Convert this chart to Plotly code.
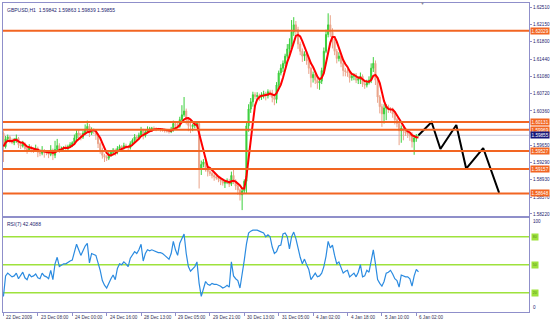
import plotly.graph_objects as go
import pandas as pd

chart_title = "GBPUSD,H1  1.59842 1.59863 1.59839 1.59855"
rsi_title = "RSI(7) 42.4088"

first_open = 1.5990
closes = [
    1.5962, 1.5978, 1.5982, 1.5975, 1.5970, 1.5974, 1.5979, 1.5966, 1.5963, 1.5968,
    1.5958, 1.5955, 1.5960, 1.5956, 1.5954, 1.5958, 1.5950, 1.5948, 1.5954, 1.5951,
    1.5949, 1.5946, 1.5955, 1.5944, 1.5956, 1.5964, 1.5957, 1.5958, 1.5960, 1.5959,
    1.5962, 1.5966, 1.5970, 1.5980, 1.5990, 1.5986, 1.5982, 1.5990, 1.5998, 1.6004,
    1.5990, 1.5996, 1.5994, 1.5986, 1.5968, 1.5955, 1.5944, 1.5940, 1.5938, 1.5946,
    1.5950, 1.5955, 1.5950, 1.5958, 1.5962, 1.5960, 1.5964, 1.5962, 1.5960, 1.5968,
    1.5975, 1.5982, 1.5980, 1.5986, 1.5995, 1.5985, 1.5992, 1.5998, 1.5999, 1.6000,
    1.5999, 1.5998, 1.5998, 1.5997, 1.5996, 1.5995, 1.5994, 1.5993, 1.5998, 1.6010,
    1.6006, 1.6004, 1.6018, 1.6028, 1.6036, 1.6018, 1.6006, 1.6004, 1.6006, 1.6008,
    1.6010, 1.5915, 1.5925, 1.5930, 1.5918, 1.5910, 1.5906, 1.5902, 1.5899, 1.5897,
    1.5894, 1.5890, 1.5886, 1.5888, 1.5890, 1.5884, 1.5902, 1.5890, 1.5880, 1.5872,
    1.5862, 1.5870, 1.5890, 1.6005, 1.6040, 1.6055, 1.6070, 1.6066, 1.6068, 1.6065,
    1.6070, 1.6072, 1.6068, 1.6076, 1.6074, 1.6064, 1.6060, 1.6090, 1.6115, 1.6125,
    1.6135, 1.6150, 1.6165, 1.6175, 1.6200, 1.6215, 1.6205, 1.6175, 1.6160, 1.6150,
    1.6155, 1.6140, 1.6125, 1.6105, 1.6112, 1.6100, 1.6094, 1.6098, 1.6120, 1.6160,
    1.6195, 1.6215, 1.6200, 1.6180, 1.6160, 1.6145, 1.6150, 1.6135, 1.6120, 1.6118,
    1.6115, 1.6105, 1.6108, 1.6110, 1.6100, 1.6102, 1.6108, 1.6092, 1.6090, 1.6095,
    1.6100, 1.6125, 1.6135, 1.6100, 1.6065, 1.6045, 1.6030, 1.6042, 1.6045, 1.6040,
    1.6038, 1.6030, 1.6018, 1.6010, 1.5995, 1.6000, 1.5995, 1.5990, 1.5988, 1.5984,
    1.5972, 1.5980, 1.59842, 1.59855,
]
upper_wick_pips = [
    4, 6, 5, 3, 4, 6, 8, 3, 4, 6, 3, 5, 7, 4, 3, 8, 4, 5, 9, 3,
    4, 5, 10, 3, 18, 14, 5, 4, 3, 6, 4, 5, 3, 7, 6, 8, 4, 5, 10, 12,
    5, 6, 4, 3, 4, 3, 5, 3, 4, 6, 5, 4, 3, 5, 4, 3, 6, 4, 3, 5,
    4, 6, 3, 5, 8, 4, 5, 6, 4, 3, 4, 3, 3, 2, 3, 3, 4, 3, 5, 6,
    4, 5, 6, 20, 29, 5, 4, 6, 3, 4, 5, 4, 8, 6, 5, 4, 3, 4, 5, 3,
    4, 3, 5, 4, 6, 5, 8, 12, 4, 5, 3, 6, 4, 6, 10, 8, 6, 5, 7, 4,
    5, 6, 4, 5, 4, 6, 4, 6, 5, 8, 6, 5, 10, 12, 25, 16, 8, 6, 5, 6,
    5, 6, 4, 3, 6, 5, 8, 4, 6, 8, 10, 24, 20, 8, 6, 5, 8, 4, 6, 5,
    5, 4, 6, 4, 5, 6, 8, 4, 5, 6, 8, 10, 13, 6, 5, 4, 6, 8, 5, 4,
    4, 5, 6, 4, 5, 6, 4, 5, 3, 4, 8, 6, 4, 0.8,
]
lower_wick_pips = [
    32, 4, 5, 6, 3, 5, 4, 7, 6, 3, 5, 8, 4, 6, 5, 3, 10, 6, 4, 12,
    5, 8, 4, 10, 6, 4, 8, 5, 3, 6, 4, 3, 5, 4, 6, 10, 7, 4, 3, 5,
    8, 4, 6, 10, 9, 8, 7, 10, 6, 4, 5, 6, 7, 4, 5, 6, 4, 5, 7, 4,
    5, 4, 6, 3, 4, 8, 4, 3, 3, 4, 3, 4, 3, 4, 3, 4, 3, 4, 3, 5,
    6, 4, 3, 5, 4, 10, 12, 14, 10, 6, 5, 40, 12, 6, 8, 10, 5, 6, 8, 4,
    6, 8, 5, 10, 4, 6, 4, 6, 8, 10, 12, 32, 6, 25, 12, 8, 10, 6, 5, 8,
    6, 8, 10, 6, 8, 10, 12, 8, 6, 5, 8, 6, 5, 10, 6, 8, 12, 10, 8, 12,
    10, 8, 12, 20, 10, 8, 12, 14, 6, 5, 4, 6, 10, 14, 8, 10, 6, 8, 12, 10,
    8, 10, 6, 8, 6, 8, 10, 6, 8, 5, 4, 6, 8, 10, 12, 14, 27, 20, 25, 8,
    6, 8, 10, 8, 30, 25, 20, 6, 8, 10, 12, 27, 8, 0.3,
]
rsi_values = [
    16, 38, 41, 39, 37, 38, 41, 35, 38, 42, 36, 34, 40, 37, 38, 40, 36, 35, 41, 38,
    37, 35, 44, 34, 51, 58, 48, 50, 51, 51, 53, 54, 55, 64, 72, 66, 60, 65, 70, 73,
    52, 62, 61, 60, 52, 44, 33, 28, 25, 31, 35, 39, 34, 46, 51, 50, 53, 51, 48, 57,
    60, 64, 62, 66, 72, 54, 62, 66, 65, 66, 65, 64, 63, 63, 62, 60, 58, 56, 62, 75,
    66, 60, 73, 78, 83, 62, 48, 43, 45, 48, 53, 30, 16, 25, 32, 29, 28, 30, 29, 29,
    28, 27, 25, 26, 28, 26, 53, 38, 35, 33, 25, 38, 55, 72, 84, 86, 87, 87, 87, 86,
    85, 84, 80, 82, 80, 69, 62, 64, 70, 71, 83, 84, 80, 67, 80, 85, 78, 67, 58, 51,
    56, 50, 45, 34, 38, 41, 37, 38, 41, 48, 59, 75, 68, 71, 60, 51, 53, 47, 41, 43,
    44, 37, 39, 41, 37, 42, 50, 37, 38, 44, 42, 55, 66, 51, 34, 30, 27, 32, 41, 42,
    44, 40, 35, 33, 26, 39, 38, 37, 37, 35, 27, 38, 45, 42.4,
]
ma_period = 5

level_prices = [1.62029, 1.60131, 1.59969, 1.59527, 1.59157, 1.58648]
bid_price = 1.59855
projection_bars = [193, 199.1, 203.2, 210.6, 215.2, 223.1, 230.5]
projection_prices = [1.59855, 1.6013, 1.5957, 1.6007, 1.5916, 1.5959, 1.5866]
price_ticks = [1.62510, 1.62150, 1.61800, 1.61440, 1.61080, 1.60720, 1.60360,
               1.59650, 1.59290, 1.58930, 1.58570, 1.58220]
rsi_levels = [80, 50, 20]
date_tick_bars = [0, 16, 32, 48, 64, 80, 96, 112, 128, 144, 160, 176, 192]
date_tick_labels = ["22 Dec 2009", "23 Dec 08:00", "24 Dec 00:00", "24 Dec 16:00",
                    "28 Dec 13:00", "29 Dec 05:00", "29 Dec 21:00", "30 Dec 13:00",
                    "31 Dec 05:00", "4 Jan 02:00", "4 Jan 18:00", "5 Jan 10:00",
                    "6 Jan 02:00"]
shift_marker_bar = 195

# ---- derived series ----
n = len(closes)
bars = list(range(n))
opens = [first_open] + closes[:-1]
highs = [max(o, c) + u / 10000 for o, c, u in zip(opens, closes, upper_wick_pips)]
lows = [min(o, c) - l / 10000 for o, c, l in zip(opens, closes, lower_wick_pips)]
ma = pd.Series(closes).rolling(ma_period, min_periods=1).mean().tolist()

FONT = "Liberation Sans"
NAVY = "#23236e"
FRAME = "#8f8fca"
ORANGE = "#f26522"
GREEN = "#9ee23c"

fig = go.Figure()
fig.add_trace(go.Candlestick(
    x=bars, open=opens, high=highs, low=lows, close=closes,
    increasing=dict(line=dict(color="#3ccf3c", width=1), fillcolor="#3ccf3c"),
    decreasing=dict(line=dict(color="#eaa48a", width=1), fillcolor="#eaa48a"),
    whiskerwidth=0, showlegend=False, hoverinfo="skip", xaxis="x", yaxis="y"))
fig.add_trace(go.Scatter(x=bars, y=ma, mode="lines", line=dict(color="#ff0000", width=2),
                         showlegend=False, hoverinfo="skip", xaxis="x", yaxis="y"))
fig.add_trace(go.Scatter(x=projection_bars, y=projection_prices, mode="lines",
                         line=dict(color="#000000", width=2), showlegend=False,
                         hoverinfo="skip", xaxis="x", yaxis="y"))
fig.add_trace(go.Scatter(x=bars, y=rsi_values, mode="lines",
                         line=dict(color="#2b8be0", width=1.2), showlegend=False,
                         hoverinfo="skip", xaxis="x2", yaxis="y2"))

shapes = []
for p in level_prices:
    shapes.append(dict(type="line", xref="x domain", yref="y", x0=0, x1=1, y0=p, y1=p,
                       line=dict(color=ORANGE, width=2), layer="above"))
shapes.append(dict(type="line", xref="x domain", yref="y", x0=0, x1=1, y0=bid_price,
                   y1=bid_price, line=dict(color="#c4c4d8", width=1), layer="below"))
for lv in rsi_levels:
    shapes.append(dict(type="line", xref="x2 domain", yref="y2", x0=0, x1=1, y0=lv, y1=lv,
                       line=dict(color=GREEN, width=1.5), layer="below"))

ann = []
small = dict(family=FONT, size=4.6, color=NAVY)
ann.append(dict(text=chart_title, xref="paper", yref="paper", x=0, y=1, xanchor="left",
                yanchor="top", xshift=2, yshift=-2, showarrow=False, font=dict(family=FONT, size=5, color=NAVY)))
ann.append(dict(text=rsi_title, xref="paper", yref="y2 domain", x=0, y=1, xanchor="left",
                yanchor="top", xshift=2, yshift=-1, showarrow=False, font=dict(family=FONT, size=5, color=NAVY)))
for p in level_prices:
    ann.append(dict(text=f"{p:.5f}", xref="paper", yref="y", x=1, y=p, xanchor="left",
                    yanchor="middle", xshift=1, showarrow=False, bgcolor=ORANGE, borderpad=0.6,
                    font=dict(family=FONT, size=4.6, color="#ffffff")))
ann.append(dict(text=f"{bid_price:.5f}", xref="paper", yref="y", x=1, y=bid_price, xanchor="left",
                yanchor="middle", xshift=1, showarrow=False, bgcolor="#16167a", borderpad=0.6,
                font=dict(family=FONT, size=4.6, color="#ffffff")))
for lv in rsi_levels:
    ann.append(dict(text=str(lv), xref="paper", yref="y2", x=1, y=lv, xanchor="left",
                    yanchor="middle", xshift=2, showarrow=False, bgcolor=GREEN, borderpad=0.8,
                    font=dict(family=FONT, size=3.5, color="#5a8a20")))
ann.append(dict(text="100", xref="paper", yref="y2", x=1, y=96.8, xanchor="left", yanchor="middle",
                xshift=2, showarrow=False, font=small))
ann.append(dict(text="0", xref="paper", yref="y2", x=1, y=3.6, xanchor="left", yanchor="middle",
                xshift=2, showarrow=False, font=small))
for b, lab in zip(date_tick_bars, date_tick_labels):
    ann.append(dict(text=lab, xref="x2", yref="paper", x=b, y=0, xanchor="left", yanchor="top",
                    xshift=1, yshift=-1, showarrow=False, font=dict(family=FONT, size=4.6, color="#333355")))
ann.append(dict(text="▼", xref="x", yref="paper", x=shift_marker_bar, y=1, xanchor="center",
                yanchor="middle", showarrow=False, font=dict(family=FONT, size=5, color="#8a8aa0")))

xr = [-0.2, 244.4]
axis_common = dict(showline=True, linecolor=FRAME, linewidth=1, mirror=True, showgrid=False,
                   zeroline=False)
fig.update_layout(
    width=552, height=322,
    margin=dict(l=2, r=21, t=3, b=10),
    paper_bgcolor="#ffffff", plot_bgcolor="#ffffff",
    showlegend=False,
    shapes=shapes, annotations=ann,
    xaxis=dict(domain=[0, 1], range=xr, anchor="y", showticklabels=False, ticks="",
               rangeslider=dict(visible=False), **axis_common),
    yaxis=dict(domain=[0.3107, 1], range=[1.58178, 1.62604], side="right", tickvals=price_ticks,
               ticktext=[f"{t:.5f}" for t in price_ticks], ticks="outside", ticklen=2,
               tickcolor=FRAME, tickfont=small, **axis_common),
    xaxis2=dict(domain=[0, 1], range=xr, anchor="y2", matches="x", tickvals=date_tick_bars,
                ticks="outside", ticklen=3, tickcolor=FRAME, showticklabels=False, **axis_common),
    yaxis2=dict(domain=[0, 0.3042], range=[-0.7, 100.1], side="right", showticklabels=False,
                ticks="", **axis_common),
)

fig.write_html("out.html")
